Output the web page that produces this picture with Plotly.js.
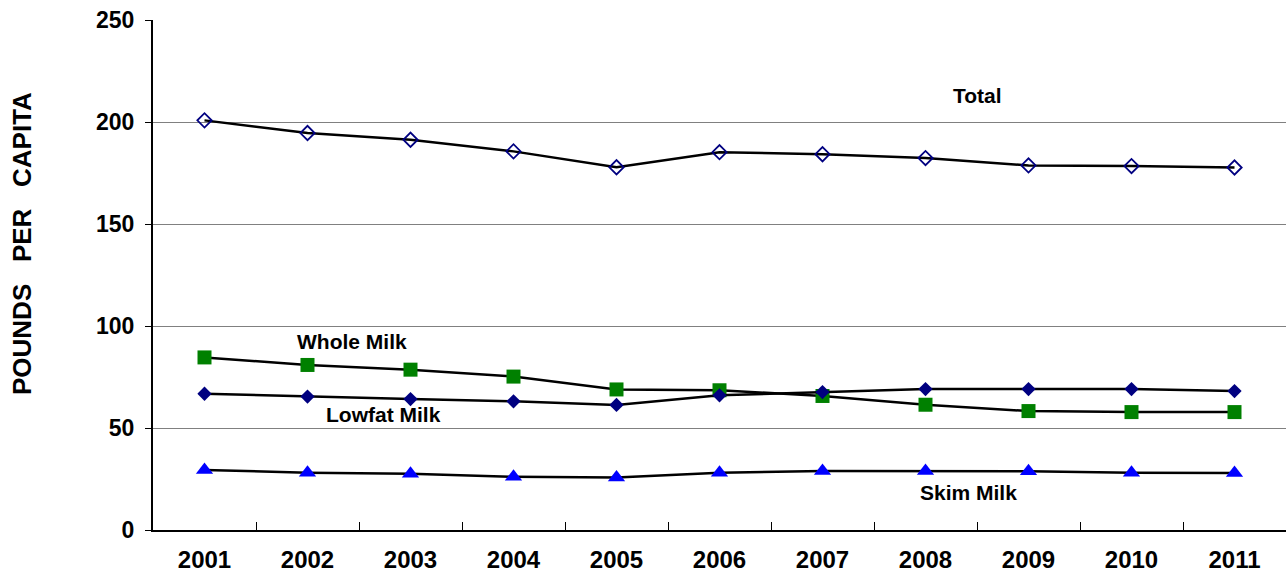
<!DOCTYPE html>
<html>
<head>
<meta charset="utf-8">
<script src="https://cdn.plot.ly/plotly-3.0.1.min.js"></script>
<style>
  html, body { margin: 0; padding: 0; background: #fff; }
  #chart { width: 1286px; height: 575px; }
</style>
</head>
<body>
<div id="chart"></div>
<script>
const years = [2001, 2002, 2003, 2004, 2005, 2006, 2007, 2008, 2009, 2010, 2011];
const totalMilk = [200.8, 194.6, 191.3, 185.6, 177.8, 185.2, 184.2, 182.3, 178.7, 178.4, 177.7];
const wholeMilk = [84.6, 80.9, 78.6, 75.2, 68.9, 68.5, 65.7, 61.4, 58.3, 57.8, 57.8];
const lowfatMilk = [66.8, 65.4, 64.2, 63.1, 61.3, 66.0, 67.6, 69.1, 69.1, 69.1, 68.1];
const skimMilk = [29.4, 28.1, 27.6, 26.1, 25.7, 28.1, 28.9, 28.9, 28.8, 28.1, 27.9];
const yTicks = [0, 50, 100, 150, 200, 250];
const bandEdges = [2001.5, 2002.5, 2003.5, 2004.5, 2005.5, 2006.5, 2007.5, 2008.5, 2009.5, 2010.5];

const labels = [
  {text: 'Total', x: 2008.5, y: 213},
  {text: 'Whole Milk', x: 2002.43, y: 92.2},
  {text: 'Lowfat Milk', x: 2002.74, y: 56.4},
  {text: 'Skim Milk', x: 2008.42, y: 18.3}
];

const FONT = 'Liberation Sans, Arial, Helvetica, sans-serif';
const lineStyle = {color: '#000000', width: 2.5};

const traces = [
  {x: years, y: totalMilk, name: 'Total', mode: 'lines+markers', line: lineStyle,
   marker: {symbol: 'diamond-open', size: 11, color: '#000080', line: {color: '#000080', width: 1.8}}},
  {x: years, y: wholeMilk, name: 'Whole Milk', mode: 'lines+markers', line: lineStyle,
   marker: {symbol: 'square', size: 14, color: '#008000'}},
  {x: years, y: lowfatMilk, name: 'Lowfat Milk', mode: 'lines+markers', line: lineStyle,
   marker: {symbol: 'diamond', size: 11, color: '#000080'}},
  {x: years, y: skimMilk, name: 'Skim Milk', mode: 'lines+markers', line: lineStyle,
   marker: {symbol: 'triangle-up', size: 15, color: '#0000FF'}}
];

const layout = {
  width: 1286, height: 575,
  margin: {l: 153, r: 0, t: 20, b: 45},
  paper_bgcolor: '#ffffff', plot_bgcolor: '#ffffff',
  showlegend: false,
  font: {family: FONT, color: '#000000'},
  xaxis: {
    range: [2000.5, 2011.5],
    tickvals: years, ticktext: years.map(String),
    ticks: '', showgrid: false, zeroline: false,
    showline: true, linecolor: '#000000', linewidth: 2,
    tickfont: {family: FONT, size: 24, weight: 'bold', color: '#000000'},
    ticklabelstandoff: 7,
    minor: {tickvals: bandEdges, ticks: 'inside', ticklen: 8, tickcolor: '#000000', tickwidth: 1, showgrid: false}
  },
  yaxis: {
    range: [0, 250],
    tickvals: yTicks, ticktext: yTicks.map(String),
    ticks: 'outside', ticklen: 6, tickcolor: '#000000', tickwidth: 1,
    showgrid: true, gridcolor: '#808080', gridwidth: 1,
    zeroline: false,
    showline: true, linecolor: '#000000', linewidth: 2,
    tickfont: {family: FONT, size: 23, weight: 'bold', color: '#000000'},
    ticklabelstandoff: 6,
    automargin: false
  },
  annotations: labels.map(l => ({
    x: l.x, y: l.y, xref: 'x', yref: 'y', text: l.text, showarrow: false,
    font: {family: FONT, size: 21, weight: 'bold', color: '#000000'}
  })).concat([{
    xref: 'paper', yref: 'paper', x: (22 - 153) / 1133, y: (530 - 244) / 510,
    xanchor: 'center', yanchor: 'middle', textangle: -90, showarrow: false,
    text: 'POUNDS&nbsp;&nbsp;&nbsp;PER&nbsp;&nbsp;&nbsp;CAPITA',
    font: {family: FONT, size: 26, weight: 'bold', color: '#000000'}
  }])
};

Plotly.newPlot('chart', traces, layout, {displayModeBar: false, staticPlot: true});
</script>
</body>
</html>
